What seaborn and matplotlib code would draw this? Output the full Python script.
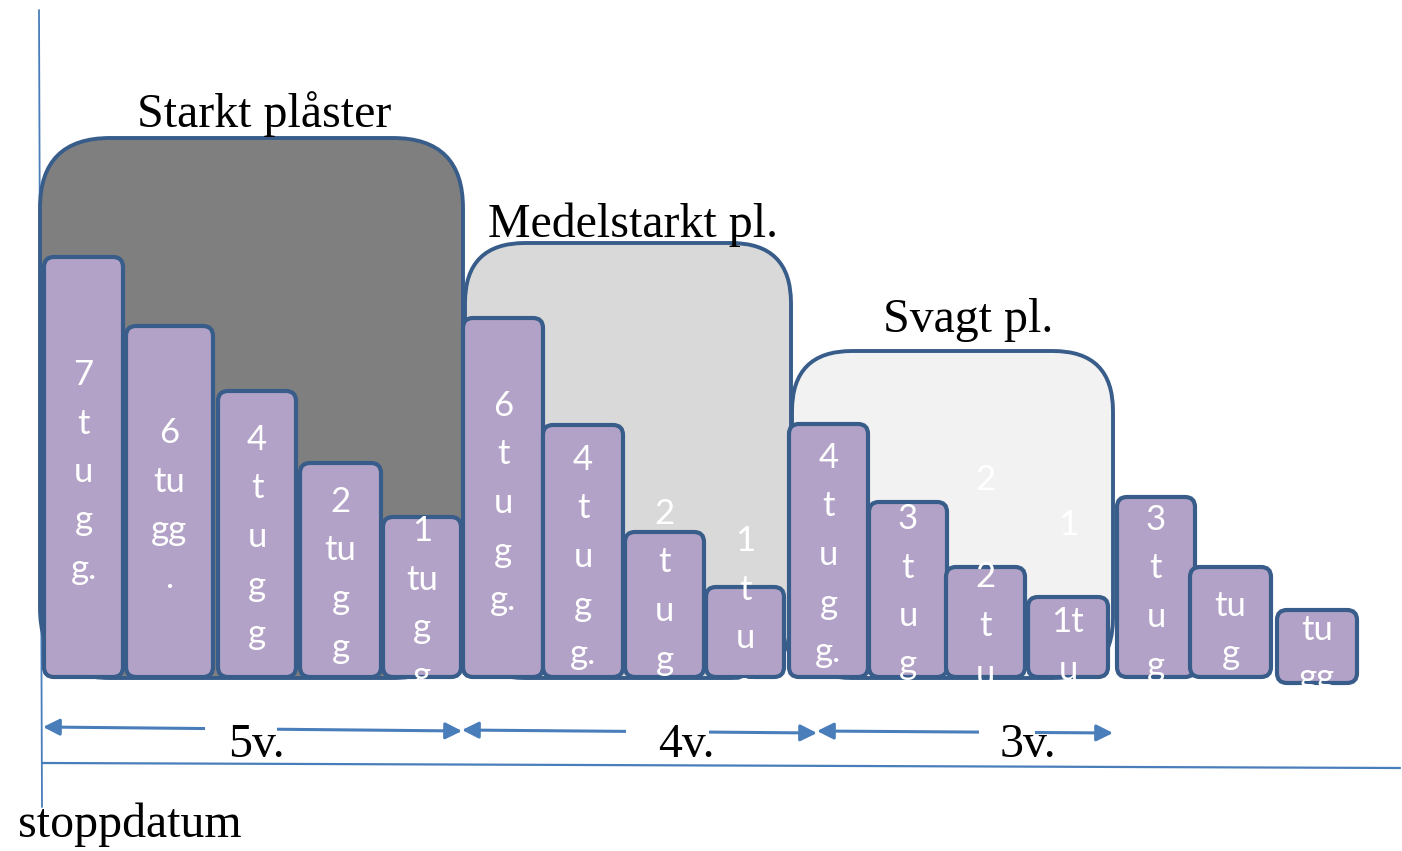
import matplotlib
matplotlib.use("Agg")
import matplotlib.pyplot as plt
import seaborn as sns
import pandas as pd
from matplotlib.patches import FancyBboxPatch, Rectangle

# ---------------- data (pixel-based layout of the diagram) ----------------
# y values are measured upward from the bar baseline (0 = bottom of bars)
BASE_PIX = 677
W, H = 1402, 851

group_names = ["Starkt plåster", "Medelstarkt pl.", "Svagt pl."]
group_left = [40, 465, 792]
group_right = [463, 791, 1113]
group_top = [539, 434, 326]
group_fill = ["#7F7F7F", "#D9D9D9", "#F2F2F2"]
group_radius = [70, 60, 60]
title_x = [137, 488, 883]
title_base = [550, 440, 345]

bar_left = [44, 126, 218, 300, 383, 463, 543, 625, 706, 789, 869, 946, 1028, 1117, 1190, 1277]
bar_right = [123, 213, 296, 381, 461, 543, 623, 704, 784, 868, 947, 1025, 1108, 1195, 1271, 1357]
bar_height = [420, 351, 286, 214, 160, 359, 252, 145, 90, 253, 175, 110, 80, 180, 110, 73]
bar_base = [0, 0, 0, 0, 0, 0, 0, 0, 0, 0, 0, 0, 0, 0, 0, -6]
bar_labels = ["7\nt\nu\ng\ng.", "6\ntu\ngg\n.", "4\nt\nu\ng\ng", "2\ntu\ng\ng", "1\ntu\ng\ng",
              "6\nt\nu\ng\ng.", "4\nt\nu\ng\ng.", "2\nt\nu\ng", "1\nt\nu\ng",
              "4\nt\nu\ng\ng.", "3\nt\nu\ng", "2\n\n2\nt\nu", "1\n\n1t\nu",
              "3\nt\nu\ng", "tu\ng", "tu\ngg"]
label_first_y = [302, 244, 237, 175, 146, 271, 217, 163, 136, 219, 158, 197, 152, 157, 71, 47]

durations = ["5v.", "4v.", "3v."]
arrow_start = [43, 462, 817]
arrow_end = [462, 817, 1113]
arrow_y0 = [-50, -53, -54]
arrow_y1 = [-54, -56, -56]
dur_x = [228, 658, 1000]
gap_left = [205, 626, 979]
gap_right = [277, 709, 1035]
dur_base = -80

axis_label = "stoppdatum"

# ---------------- styling ----------------
sns.set_theme(style="white")
plt.rcParams['font.family'] = ['Liberation Serif', 'DejaVu Serif']
edge_col = "#385D8A"
bar_fill = "#B3A2C7"
line_col = "#4A7EBB"

fig = plt.figure(figsize=(W / 100, H / 100), dpi=100)
ax = fig.add_axes([0, 0, 1, 1])

# axis lines
ax.plot([39, 42], [BASE_PIX - 10, BASE_PIX - 807], color=line_col, lw=1.3, zorder=1)
ax.plot([42, 1400], [BASE_PIX - 763, BASE_PIX - 768], color=line_col, lw=1.6, zorder=1)

# group boxes
for i, name in enumerate(group_names):
    box = FancyBboxPatch((group_left[i], -1), group_right[i] - group_left[i], group_top[i] + 1,
                         boxstyle=f"round,pad=0,rounding_size={group_radius[i]}",
                         facecolor=group_fill[i], edgecolor=edge_col, lw=2.8, zorder=2)
    ax.add_patch(box)
    ax.text(title_x[i], title_base[i], name, fontsize=34.5, color="black",
            ha="left", va="baseline", zorder=6)

# bars through seaborn, then turned into rounded boxes
centers = [(l + r) / 2 for l, r in zip(bar_left, bar_right)]
df = pd.DataFrame({"center": centers, "height": bar_height})
sns.barplot(data=df, x="center", y="height", native_scale=True, errorbar=None,
            color=bar_fill, ax=ax, width=0.9)
rects = list(ax.patches)[len(group_names):]
for i, p in enumerate(rects):
    p.set_x(bar_left[i])
    p.set_width(bar_right[i] - bar_left[i])
    p.set_y(bar_base[i])
    x, y, w, h = p.get_x(), p.get_y(), p.get_width(), p.get_height()
    rb = FancyBboxPatch((x, y), w, h, boxstyle="round,pad=0,rounding_size=10",
                        facecolor=bar_fill, edgecolor=edge_col, lw=3.0, zorder=3 + i * 0.01)
    ax.add_patch(rb)
    p.remove()

clip = Rectangle((0, -5), W, H, transform=ax.transData)
for i, lab in enumerate(bar_labels):
    for j, line in enumerate(lab.split("\n")):
        if not line:
            continue
        t = ax.text(centers[i], label_first_y[i] - j * 48.5, line, family=['Lato', 'DejaVu Sans'],
                    fontsize=25, color="white", ha="center", va="center", zorder=5)
        t.set_clip_path(clip)

# duration arrows
for i, d in enumerate(durations):
    ax.annotate("", xy=(arrow_end[i], arrow_y1[i]), xytext=(arrow_start[i], arrow_y0[i]),
                arrowprops=dict(arrowstyle="<|-|>", color=line_col, lw=2.2,
                                mutation_scale=25, shrinkA=0, shrinkB=0), zorder=4)
    ax.add_patch(Rectangle((gap_left[i], -64), gap_right[i] - gap_left[i], 22,
                           facecolor="white", edgecolor="none", zorder=4.5))
    ax.text(dur_x[i], dur_base, d, fontsize=34.5, color="black", ha="left",
            va="baseline", zorder=6)

ax.text(18, BASE_PIX - 837, axis_label, fontsize=34.5, color="black",
        ha="left", va="baseline", zorder=6)

ax.set_xlim(0, W)
ax.set_ylim(BASE_PIX - H, BASE_PIX)
ax.axis("off")
fig.savefig("out.png", dpi=100)
